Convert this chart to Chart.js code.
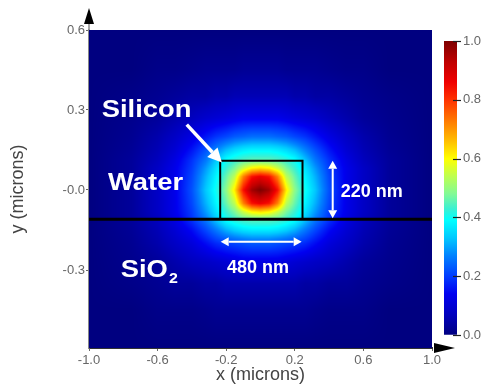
<!DOCTYPE html>
<html>
<head>
<meta charset="utf-8">
<script src="https://cdn.jsdelivr.net/npm/chart.js@4.4.1/dist/chart.umd.min.js"></script>
<style>
  html, body { margin: 0; padding: 0; background: #fff; }
  #wrap { position: relative; width: 486px; height: 386px; }
  #main { position: absolute; left: 0; top: 0; }
  #bar { position: absolute; left: 440px; top: 0; }
</style>
</head>
<body>
<div id="wrap">
  <canvas id="main" width="486" height="386"></canvas>
  <canvas id="bar" width="46" height="386"></canvas>
</div>
<script>
// Axis ticks
const xTicks = [-1.0, -0.6, -0.2, 0.2, 0.6, 1.0];
const xTickLabels = ['-1.0', '-0.6', '-0.2', '0.2', '0.6', '1.0'];
const yTicks = [0.6, 0.3, 0.0, -0.3];
const yTickLabels = ['0.6', '0.3', '-0.0', '-0.3'];
const colorbarTicks = [0.0, 0.2, 0.4, 0.6, 0.8, 1.0];
const colorbarLabels = ['0.0', '0.2', '0.4', '0.6', '0.8', '1.0'];

// Normalised mode intensity sampled on a grid (x, y in microns)
const fieldX = [-1.0, -0.75, -0.6, -0.5, -0.4, -0.32, -0.26, -0.2, -0.15, -0.1, -0.05, 0,
                0.05, 0.1, 0.15, 0.2, 0.26, 0.32, 0.4, 0.5, 0.6, 0.75, 1.0];
const fieldY = [0.6, 0.45, 0.35, 0.27, 0.2, 0.15, 0.11, 0.08, 0.05, 0, -0.05, -0.08, -0.11,
                -0.15, -0.2, -0.27, -0.35, -0.45, -0.6];
const fieldValues = [
  [0,0,0,0,0,0,0,0,0,0,0,0,0,0,0,0,0,0,0,0,0,0,0],
  [0,0,0.01,0.01,0.015,0.02,0.02,0.02,0.02,0.025,0.025,0.025,0.025,0.025,0.02,0.02,0.02,0.02,0.015,0.01,0.01,0,0],
  [0,0.01,0.02,0.03,0.04,0.04,0.05,0.05,0.06,0.06,0.06,0.06,0.06,0.06,0.06,0.05,0.05,0.04,0.04,0.03,0.02,0.01,0],
  [0,0.015,0.03,0.05,0.07,0.09,0.1,0.11,0.12,0.13,0.13,0.13,0.13,0.13,0.12,0.11,0.1,0.09,0.07,0.05,0.03,0.015,0],
  [0,0.02,0.05,0.08,0.12,0.16,0.19,0.21,0.23,0.24,0.25,0.25,0.25,0.24,0.23,0.21,0.19,0.16,0.12,0.08,0.05,0.02,0],
  [0,0.025,0.06,0.1,0.16,0.22,0.27,0.32,0.35,0.37,0.38,0.38,0.38,0.37,0.35,0.32,0.27,0.22,0.16,0.1,0.06,0.025,0],
  [0,0.03,0.07,0.12,0.19,0.26,0.33,0.4,0.43,0.45,0.46,0.46,0.46,0.45,0.43,0.4,0.33,0.26,0.19,0.12,0.07,0.03,0],
  [0,0.03,0.08,0.13,0.2,0.29,0.36,0.43,0.48,0.56,0.62,0.64,0.62,0.56,0.48,0.43,0.36,0.29,0.2,0.13,0.08,0.03,0],
  [0,0.03,0.08,0.13,0.21,0.31,0.38,0.46,0.54,0.72,0.84,0.87,0.84,0.72,0.54,0.46,0.38,0.31,0.21,0.13,0.08,0.03,0],
  [0,0.03,0.08,0.13,0.22,0.33,0.4,0.49,0.62,0.84,0.96,1.0,0.96,0.84,0.62,0.49,0.4,0.33,0.22,0.13,0.08,0.03,0],
  [0,0.03,0.08,0.13,0.21,0.31,0.38,0.46,0.54,0.72,0.84,0.87,0.84,0.72,0.54,0.46,0.38,0.31,0.21,0.13,0.08,0.03,0],
  [0,0.03,0.08,0.13,0.2,0.29,0.36,0.43,0.48,0.56,0.62,0.64,0.62,0.56,0.48,0.43,0.36,0.29,0.2,0.13,0.08,0.03,0],
  [0,0.03,0.07,0.12,0.19,0.26,0.33,0.4,0.43,0.45,0.46,0.46,0.46,0.45,0.43,0.4,0.33,0.26,0.19,0.12,0.07,0.03,0],
  [0,0.025,0.06,0.1,0.15,0.21,0.26,0.31,0.34,0.36,0.37,0.37,0.37,0.36,0.34,0.31,0.26,0.21,0.15,0.1,0.06,0.025,0],
  [0,0.02,0.05,0.08,0.11,0.15,0.18,0.2,0.21,0.22,0.23,0.23,0.23,0.22,0.21,0.2,0.18,0.15,0.11,0.08,0.05,0.02,0],
  [0,0.015,0.03,0.05,0.07,0.08,0.09,0.1,0.11,0.12,0.12,0.12,0.12,0.12,0.11,0.1,0.09,0.08,0.07,0.05,0.03,0.015,0],
  [0,0.01,0.02,0.03,0.03,0.04,0.04,0.05,0.05,0.05,0.05,0.05,0.05,0.05,0.05,0.05,0.04,0.04,0.03,0.03,0.02,0.01,0],
  [0,0,0.01,0.01,0.01,0.015,0.02,0.02,0.02,0.02,0.02,0.02,0.02,0.02,0.02,0.02,0.02,0.015,0.01,0.01,0.01,0,0],
  [0,0,0,0,0,0,0,0,0,0,0,0,0,0,0,0,0,0,0,0,0,0,0]
];

// Waveguide geometry (microns)
const coreX = [-0.235, -0.235, 0.245, 0.245];
const coreY = [-0.11, 0.11, 0.11, -0.11];
const interfaceX = [-1.0, 1.0];
const interfaceY = [-0.11, -0.11];

// Jet-like colour map
const colorStops = [
  [0.00, [0, 0, 128]], [0.07, [0, 0, 190]], [0.14, [0, 0, 240]], [0.20, [0, 60, 255]],
  [0.27, [0, 130, 255]], [0.33, [0, 200, 255]], [0.39, [0, 255, 255]], [0.43, [60, 240, 210]],
  [0.48, [130, 250, 150]], [0.54, [190, 255, 80]], [0.60, [255, 255, 0]], [0.66, [255, 190, 0]],
  [0.73, [255, 120, 0]], [0.80, [255, 50, 0]], [0.86, [240, 0, 0]], [0.93, [190, 0, 0]],
  [1.00, [125, 0, 0]]
];

function colorFor(v) {
  v = Math.max(0, Math.min(1, v));
  for (let i = 0; i < colorStops.length - 1; i++) {
    const [v0, c0] = colorStops[i], [v1, c1] = colorStops[i + 1];
    if (v <= v1) {
      const t = (v - v0) / (v1 - v0);
      return [c0[0] + (c1[0] - c0[0]) * t, c0[1] + (c1[1] - c0[1]) * t, c0[2] + (c1[2] - c0[2]) * t];
    }
  }
  return colorStops[colorStops.length - 1][1];
}

function locate(arr, v) {
  for (let k = 0; k < arr.length - 1; k++) {
    const a = arr[k], b = arr[k + 1];
    if (v >= Math.min(a, b) && v <= Math.max(a, b)) return [k, (v - a) / (b - a)];
  }
  const last = arr.length - 2;
  const below = arr[0] < arr[arr.length - 1] ? v < arr[0] : v > arr[0];
  return below ? [0, 0] : [last, 1];
}

const FONT = "'Liberation Sans', Arial, Helvetica, sans-serif";
Chart.defaults.font.family = FONT;

// Paints the intensity map inside the plot area from the sampled grid
const fieldMap = {
  id: 'fieldMap',
  beforeDatasetsDraw(chart) {
    const { ctx, chartArea: a, scales: { x, y } } = chart;
    const left = Math.round(a.left), top = Math.round(a.top);
    const w = Math.round(a.right) - left, h = Math.round(a.bottom) - top;
    const off = document.createElement('canvas');
    off.width = w; off.height = h;
    const octx = off.getContext('2d');
    const img = octx.createImageData(w, h);
    const cols = [], rows = [];
    for (let i = 0; i < w; i++) cols.push(locate(fieldX, x.getValueForPixel(left + i + 0.5)));
    for (let j = 0; j < h; j++) rows.push(locate(fieldY, y.getValueForPixel(top + j + 0.5)));
    for (let j = 0; j < h; j++) {
      const [r, ty] = rows[j];
      const row0 = fieldValues[r], row1 = fieldValues[r + 1];
      for (let i = 0; i < w; i++) {
        const [c, tx] = cols[i];
        const v0 = row0[c] + (row0[c + 1] - row0[c]) * tx;
        const v1 = row1[c] + (row1[c + 1] - row1[c]) * tx;
        const col = colorFor(v0 + (v1 - v0) * ty);
        const p = (j * w + i) * 4;
        img.data[p] = col[0]; img.data[p + 1] = col[1]; img.data[p + 2] = col[2]; img.data[p + 3] = 255;
      }
    }
    octx.putImageData(img, 0, 0);
    ctx.drawImage(off, left, top);
  }
};

// Text labels and white arrows, placed in data units
const labelNotes = [
  { text: 'Silicon', x: -0.926, y: 0.272, size: 24, stretch: 1.14 },
  { text: 'Water', x: -0.889, y: 0.0, size: 24, stretch: 1.14 },
  { text: 'SiO', sub: '2', x: -0.815, y: -0.325, size: 24, stretch: 1.14 },
  { text: '220 nm', x: 0.468, y: -0.025, size: 18, stretch: 1.0 },
  { text: '480 nm', x: -0.195, y: -0.31, size: 18, stretch: 1.0 }
];
const arrowNotes = [
  { from: [-0.43, 0.245], to: [-0.225, 0.103], width: 3.5, head: 14, half: 7, both: false },
  { from: [-0.232, -0.194], to: [0.240, -0.194], width: 2, head: 8, half: 4.5, both: true },
  { from: [0.421, 0.11], to: [0.421, -0.106], width: 2, head: 8, half: 4.5, both: true }
];

function head(ctx, x1, y1, x2, y2, len, half) {
  const ang = Math.atan2(y2 - y1, x2 - x1);
  const bx = x2 - len * Math.cos(ang), by = y2 - len * Math.sin(ang);
  ctx.beginPath();
  ctx.moveTo(x2, y2);
  ctx.lineTo(bx + half * Math.sin(ang), by - half * Math.cos(ang));
  ctx.lineTo(bx - half * Math.sin(ang), by + half * Math.cos(ang));
  ctx.closePath();
  ctx.fill();
  return [bx, by];
}

const annotations = {
  id: 'annotations',
  afterDatasetsDraw(chart) {
    const { ctx, scales: { x, y } } = chart;
    ctx.save();
    ctx.fillStyle = '#fff';
    ctx.strokeStyle = '#fff';
    ctx.textBaseline = 'alphabetic';
    ctx.textAlign = 'left';
    for (const n of labelNotes) {
      const px = x.getPixelForValue(n.x), py = y.getPixelForValue(n.y);
      ctx.save();
      ctx.translate(px, py);
      ctx.scale(n.stretch, 1);
      ctx.font = `bold ${n.size}px ${FONT}`;
      ctx.fillText(n.text, 0, 0);
      if (n.sub) {
        const tw = ctx.measureText(n.text).width;
        ctx.font = `bold ${Math.round(n.size * 0.6)}px ${FONT}`;
        ctx.fillText(n.sub, tw + 1, 6);
      }
      ctx.restore();
    }
    ctx.lineCap = 'butt';
    for (const a of arrowNotes) {
      const x1 = x.getPixelForValue(a.from[0]), y1 = y.getPixelForValue(a.from[1]);
      const x2 = x.getPixelForValue(a.to[0]), y2 = y.getPixelForValue(a.to[1]);
      const [ex, ey] = head(ctx, x1, y1, x2, y2, a.head, a.half);
      let sx = x1, sy = y1;
      if (a.both) [sx, sy] = head(ctx, x2, y2, x1, y1, a.head, a.half);
      ctx.lineWidth = a.width;
      ctx.beginPath();
      ctx.moveTo(sx, sy);
      ctx.lineTo(ex, ey);
      ctx.stroke();
    }
    ctx.restore();
  }
};

// Axis lines continued into arrowheads
const axisArrows = {
  id: 'axisArrows',
  afterDraw(chart) {
    const { ctx, chartArea: a } = chart;
    ctx.save();
    ctx.fillStyle = '#000';
    ctx.strokeStyle = '#888';
    ctx.lineWidth = 1.5;
    ctx.beginPath();
    ctx.moveTo(a.left, a.top);
    ctx.lineTo(a.left, 20);
    ctx.stroke();
    ctx.beginPath();
    ctx.moveTo(a.left, 8); ctx.lineTo(a.left - 5, 24); ctx.lineTo(a.left + 5, 24); ctx.closePath();
    ctx.fill();
    ctx.beginPath();
    ctx.moveTo(a.right + 23, a.bottom); ctx.lineTo(a.right + 2, a.bottom - 5); ctx.lineTo(a.right + 2, a.bottom + 5); ctx.closePath();
    ctx.fill();
    ctx.restore();
  }
};

new Chart(document.getElementById('main'), {
  type: 'scatter',
  data: {
    datasets: [
      {
        data: coreX.map((v, i) => ({ x: v, y: coreY[i] })),
        showLine: true, borderColor: '#000', borderWidth: 2, pointRadius: 0, tension: 0, fill: false
      },
      {
        data: interfaceX.map((v, i) => ({ x: v, y: interfaceY[i] })),
        showLine: true, borderColor: '#000', borderWidth: 3, pointRadius: 0, tension: 0, fill: false
      }
    ]
  },
  options: {
    responsive: false,
    animation: false,
    layout: { padding: { left: 0, right: 54, top: 30, bottom: 0 } },
    plugins: { legend: { display: false }, tooltip: { enabled: false } },
    scales: {
      x: {
        type: 'linear', min: -1, max: 1,
        afterBuildTicks: s => { s.ticks = xTicks.map(v => ({ value: v })); },
        afterFit: s => { s.height = 38; },
        ticks: { callback: (v, i) => xTickLabels[i], autoSkip: false, maxRotation: 0, font: { size: 13 }, color: '#666', padding: 2 },
        grid: { drawOnChartArea: false, drawTicks: true, tickLength: 3, color: '#666' },
        border: { color: '#333', width: 2 },
        title: { display: true, text: 'x (microns)', font: { size: 18 }, color: '#444', padding: { top: 0, bottom: 0 } }
      },
      y: {
        type: 'linear', min: -0.5925, max: 0.6,
        afterBuildTicks: s => { s.ticks = yTicks.map(v => ({ value: v })); },
        afterFit: s => { s.width = 89; },
        ticks: { callback: (v, i) => yTickLabels[i], autoSkip: false, font: { size: 13 }, color: '#666', padding: 1 },
        grid: { drawOnChartArea: false, drawTicks: true, tickLength: 3, color: '#666' },
        border: { color: '#888', width: 1.5 },
        title: { display: true, text: 'y (microns)', font: { size: 18 }, color: '#444', padding: { top: 7, bottom: 0 } }
      }
    }
  },
  plugins: [fieldMap, annotations, axisArrows]
});

// Colour bar
function barGradient(chart) {
  const a = chart.chartArea;
  if (!a) return '#000080';
  const g = chart.ctx.createLinearGradient(0, a.bottom, 0, a.top);
  for (const [v, c] of colorStops) g.addColorStop(v, `rgb(${c[0]},${c[1]},${c[2]})`);
  return g;
}

const barTicks = {
  id: 'barTicks',
  afterDraw(chart) {
    const { ctx, chartArea: a, scales: { y } } = chart;
    ctx.save();
    ctx.strokeStyle = '#222';
    ctx.lineWidth = 1.2;
    for (const v of colorbarTicks) {
      const py = Math.round(y.getPixelForValue(v)) + 0.5;
      ctx.beginPath();
      ctx.moveTo(a.right - 4, py);
      ctx.lineTo(a.right + 4, py);
      ctx.stroke();
    }
    ctx.restore();
  }
};

new Chart(document.getElementById('bar'), {
  type: 'bar',
  data: {
    labels: [''],
    datasets: [{
      data: [[colorbarTicks[0], colorbarTicks[colorbarTicks.length - 1]]],
      backgroundColor: c => barGradient(c.chart),
      borderWidth: 0, barPercentage: 1, categoryPercentage: 1
    }]
  },
  options: {
    responsive: false,
    animation: false,
    layout: { padding: { left: 4, right: 0, top: 41, bottom: 51 } },
    plugins: { legend: { display: false }, tooltip: { enabled: false } },
    scales: {
      x: { display: false },
      y: {
        position: 'right', min: 0, max: 1,
        afterBuildTicks: s => { s.ticks = colorbarTicks.map(v => ({ value: v })); },
        afterFit: s => { s.width = 29; },
        ticks: { callback: (v, i) => colorbarLabels[i], font: { size: 13 }, color: '#666', padding: 6 },
        grid: { drawOnChartArea: false, drawTicks: false },
        border: { display: false }
      }
    }
  },
  plugins: [barTicks]
});
</script>
</body>
</html>
